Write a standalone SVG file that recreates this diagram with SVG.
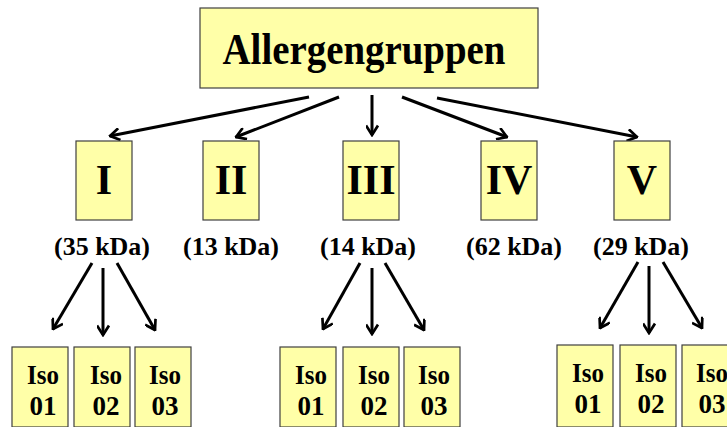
<svg xmlns="http://www.w3.org/2000/svg" width="727" height="427" viewBox="0 0 727 427">
<defs>
<style>
.box{fill:#FFFFA8;stroke:#404040;stroke-width:1.2}
.t{font-family:"Liberation Serif","Times New Roman",serif;font-weight:bold;fill:#000;text-anchor:middle}
.k{font-size:26px}
.s{font-size:27px}
.r{font-size:42px}
.c{stroke:#000;stroke-width:3;fill:none;marker-end:url(#ah)}
</style>
<marker id="ah" viewBox="0 0 13 13" refX="11.5" refY="6.5" markerWidth="13" markerHeight="13" markerUnits="userSpaceOnUse" orient="auto">
<path d="M2,0.5 L11.5,6.5 L2,12.5" fill="none" stroke="#000" stroke-width="2.7"/>
</marker>
</defs>
<rect width="727" height="427" fill="#fff"/>
<g id="connectors">
<line class="c" x1="309" y1="97" x2="110" y2="136"/>
<line class="c" x1="339" y1="97" x2="236" y2="137"/>
<line class="c" x1="372" y1="95" x2="372" y2="135"/>
<line class="c" x1="402" y1="97" x2="507" y2="137"/>
<line class="c" x1="437" y1="98" x2="637" y2="137"/>
<line class="c" x1="92" y1="263" x2="53" y2="329"/>
<line class="c" x1="103" y1="268" x2="103" y2="335"/>
<line class="c" x1="117" y1="263" x2="155" y2="330"/>
<line class="c" x1="360" y1="263" x2="323" y2="329"/>
<line class="c" x1="372" y1="268" x2="372" y2="334"/>
<line class="c" x1="385" y1="263" x2="424" y2="330"/>
<line class="c" x1="638" y1="262" x2="600" y2="328"/>
<line class="c" x1="649" y1="266" x2="649" y2="333"/>
<line class="c" x1="663" y1="262" x2="702" y2="328"/>
</g>
<g id="root">
<rect class="box" x="200" y="8" width="338" height="80"/>
<text class="t" x="364" y="64" font-size="44" textLength="283" lengthAdjust="spacingAndGlyphs">Allergengruppen</text>
</g>
<g id="g1">
<rect class="box" x="76" y="141" width="56" height="79"/>
<text class="t r" x="104" y="194">I</text>
<text class="t k" x="102" y="255" textLength="96" lengthAdjust="spacingAndGlyphs">(35 kDa)</text>
</g>
<g id="g2">
<rect class="box" x="203" y="141" width="56" height="79"/>
<text class="t r" x="231" y="194">II</text>
<text class="t k" x="231" y="255" textLength="96" lengthAdjust="spacingAndGlyphs">(13 kDa)</text>
</g>
<g id="g3">
<rect class="box" x="343" y="141" width="56" height="79"/>
<text class="t r" x="371" y="194">III</text>
<text class="t k" x="368" y="255" textLength="96" lengthAdjust="spacingAndGlyphs">(14 kDa)</text>
</g>
<g id="g4">
<rect class="box" x="481" y="141" width="56" height="79"/>
<text class="t r" x="509" y="194">IV</text>
<text class="t k" x="514" y="255" textLength="96" lengthAdjust="spacingAndGlyphs">(62 kDa)</text>
</g>
<g id="g5">
<rect class="box" x="614" y="141" width="56" height="79"/>
<text class="t r" x="642" y="194">V</text>
<text class="t k" x="641" y="255" textLength="96" lengthAdjust="spacingAndGlyphs">(29 kDa)</text>
</g>
<g id="iso-1-01"><rect class="box" x="12" y="347" width="56" height="80"/><text class="t s" x="43" y="384" textLength="32" lengthAdjust="spacingAndGlyphs">Iso</text><text class="t s" x="43" y="415">01</text></g>
<g id="iso-1-02"><rect class="box" x="74" y="347" width="56" height="80"/><text class="t s" x="106" y="384" textLength="32" lengthAdjust="spacingAndGlyphs">Iso</text><text class="t s" x="106" y="415">02</text></g>
<g id="iso-1-03"><rect class="box" x="135" y="347" width="56" height="80"/><text class="t s" x="165" y="384" textLength="32" lengthAdjust="spacingAndGlyphs">Iso</text><text class="t s" x="165" y="415">03</text></g>
<g id="iso-3-01"><rect class="box" x="280" y="347" width="56" height="80"/><text class="t s" x="311" y="384" textLength="32" lengthAdjust="spacingAndGlyphs">Iso</text><text class="t s" x="311" y="415">01</text></g>
<g id="iso-3-02"><rect class="box" x="343" y="347" width="56" height="80"/><text class="t s" x="374" y="384" textLength="32" lengthAdjust="spacingAndGlyphs">Iso</text><text class="t s" x="374" y="415">02</text></g>
<g id="iso-3-03"><rect class="box" x="404" y="347" width="56" height="80"/><text class="t s" x="434" y="384" textLength="32" lengthAdjust="spacingAndGlyphs">Iso</text><text class="t s" x="434" y="415">03</text></g>
<g id="iso-5-01"><rect class="box" x="557" y="345" width="56" height="82"/><text class="t s" x="588" y="382" textLength="32" lengthAdjust="spacingAndGlyphs">Iso</text><text class="t s" x="588" y="413">01</text></g>
<g id="iso-5-02"><rect class="box" x="620" y="345" width="56" height="82"/><text class="t s" x="651" y="382" textLength="32" lengthAdjust="spacingAndGlyphs">Iso</text><text class="t s" x="651" y="413">02</text></g>
<g id="iso-5-03"><rect class="box" x="682" y="345" width="56" height="82"/><text class="t s" x="712" y="382" textLength="32" lengthAdjust="spacingAndGlyphs">Iso</text><text class="t s" x="712" y="413">03</text></g>
</svg>
